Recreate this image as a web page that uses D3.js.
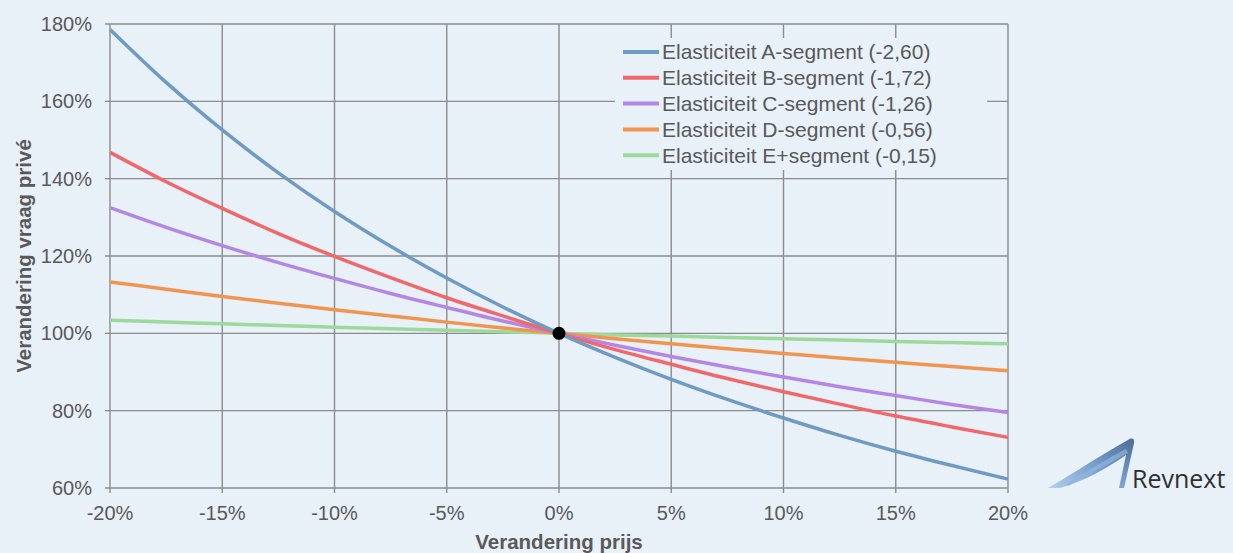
<!DOCTYPE html>
<html>
<head>
<meta charset="utf-8">
<script src="https://cdn.jsdelivr.net/npm/d3@7"></script>
<style>
  body { margin: 0; background: #e8f0f8; }
  svg { display: block; font-family: "Liberation Sans", Arial, sans-serif; }
</style>
</head>
<body>
<div id="chart"></div>
<script>
// prijsverandering (%) en vraag (%) per segment
const prices = [-20, -17.5, -15, -12.5, -10, -7.5, -5, -2.5, 0, 2.5, 5, 7.5, 10, 12.5, 15, 17.5, 20];
const segA = [178.6, 164.9, 152.6, 141.5, 131.5, 122.5, 114.3, 106.8, 100, 93.8, 88.1, 82.9, 78.1, 73.6, 69.5, 65.8, 62.3];
const segB = [146.8, 139.2, 132.3, 125.8, 119.9, 114.4, 109.2, 104.5, 100, 95.8, 92.0, 88.3, 84.9, 81.7, 78.6, 75.8, 73.1];
const segC = [132.5, 127.4, 122.7, 118.3, 114.2, 110.3, 106.7, 103.2, 100, 96.9, 94.0, 91.3, 88.7, 86.2, 83.9, 81.6, 79.5];
const segD = [113.3, 111.4, 109.5, 107.8, 106.1, 104.5, 102.9, 101.4, 100, 98.6, 97.3, 96.0, 94.8, 93.6, 92.5, 91.4, 90.3];
const segE = [103.4, 102.9, 102.5, 102.0, 101.6, 101.2, 100.8, 100.4, 100, 99.6, 99.3, 98.9, 98.6, 98.3, 97.9, 97.6, 97.3];
const seriesNames = [
  "Elasticiteit A-segment (-2,60)",
  "Elasticiteit B-segment (-1,72)",
  "Elasticiteit C-segment (-1,26)",
  "Elasticiteit D-segment (-0,56)",
  "Elasticiteit E+segment (-0,15)"
];
const seriesColors = ["#6f9bc2", "#f0686b", "#b487e6", "#f0944f", "#9dd99b"];
const xTicks = [-20, -15, -10, -5, 0, 5, 10, 15, 20];
const yTicks = [60, 80, 100, 120, 140, 160, 180];

const width = 1233;
const height = 553;
const margin = { top: 24, right: 225, bottom: 65, left: 110 };
const bg = "#e8f0f8";
const grid = "#8c8c8c";
const textColor = "#595959";

const svg = d3.select("#chart")
  .append("svg")
  .attr("width", width)
  .attr("height", height);

svg.append("rect").attr("width", width).attr("height", height).attr("fill", bg);

const x = d3.scaleLinear()
  .domain([-20, 20])
  .range([margin.left, width - margin.right]);

const y = d3.scaleLinear()
  .domain([60, 180])
  .range([height - margin.bottom, margin.top]);

// gridlines
svg.append("g")
  .attr("stroke", grid)
  .attr("stroke-width", 1.4)
  .call(g => g.selectAll(".v").data(xTicks).join("line")
    .attr("x1", d => x(d)).attr("x2", d => x(d))
    .attr("y1", y(180)).attr("y2", y(60) + 5))
  .call(g => g.selectAll(".h").data(yTicks).join("line")
    .attr("x1", x(-20) - 5).attr("x2", x(20))
    .attr("y1", d => y(d)).attr("y2", d => y(d)));

// axis labels
svg.append("g")
  .attr("font-size", "20px")
  .attr("fill", textColor)
  .attr("text-anchor", "end")
  .selectAll("text")
  .data(yTicks)
  .join("text")
    .attr("x", x(-20) - 18)
    .attr("y", d => y(d))
    .attr("dy", "0.35em")
    .text(d => d + "%");

svg.append("g")
  .attr("font-size", "20px")
  .attr("fill", textColor)
  .attr("text-anchor", "middle")
  .selectAll("text")
  .data(xTicks)
  .join("text")
    .attr("x", d => x(d))
    .attr("y", y(60) + 25)
    .attr("dy", "0.35em")
    .text(d => d + "%");

svg.append("text")
  .attr("text-anchor", "middle")
  .attr("font-weight", "bold")
  .attr("font-size", "20.5px")
  .attr("fill", textColor)
  .attr("transform", `translate(${x(0)},${height - 4})`)
  .text("Verandering prijs");

svg.append("text")
  .attr("text-anchor", "middle")
  .attr("font-weight", "bold")
  .attr("font-size", "20.5px")
  .attr("fill", textColor)
  .attr("transform", `translate(31,${(y(60) + y(180)) / 2}) rotate(-90)`)
  .text("Verandering vraag privé");

// legend backdrop hides the grid behind it
const legendX = 615, legendY = 38;
svg.append("rect")
  .attr("x", legendX).attr("y", legendY)
  .attr("width", 372).attr("height", 132)
  .attr("fill", bg);

const allSeries = [segA, segB, segC, segD, segE];

const line = d3.line()
  .x((d, i) => x(prices[i]))
  .y(d => y(d))
  .curve(d3.curveMonotoneX);

// draw E first so A ends on top
svg.append("g")
  .attr("fill", "none")
  .attr("stroke-width", 3.5)
  .selectAll("path")
  .data(allSeries.map((s, i) => ({ s, i })).reverse())
  .join("path")
    .attr("stroke", d => seriesColors[d.i])
    .attr("d", d => line(d.s));

svg.append("circle")
  .attr("cx", x(0)).attr("cy", y(100)).attr("r", 6.5)
  .attr("fill", "#000");

const legend = svg.append("g")
  .selectAll("g")
  .data(seriesNames)
  .join("g")
    .attr("transform", (d, i) => `translate(${legendX + 8},${legendY + 14 + i * 25.8})`);

legend.append("line")
  .attr("x1", 0).attr("x2", 36)
  .attr("stroke", (d, i) => seriesColors[i])
  .attr("stroke-width", 4);

legend.append("text")
  .attr("x", 39)
  .attr("dy", "0.35em")
  .attr("font-size", "21px")
  .attr("fill", textColor)
  .text(d => d);

// logo
const defs = svg.append("defs");
const grad = defs.append("linearGradient").attr("id", "logoGrad")
  .attr("x1", "0").attr("y1", "1").attr("x2", "1").attr("y2", "0");
grad.append("stop").attr("offset", "0").attr("stop-color", "#b3d0ee");
grad.append("stop").attr("offset", "0.55").attr("stop-color", "#7299c8");
grad.append("stop").attr("offset", "1").attr("stop-color", "#4f6b98");

const logo = svg.append("g").attr("transform", "translate(1046,437)");
logo.append("path")
  .attr("d", "M2,51 C28,36 58,16 82,3 C86,0 89,2 88,6 L78,51 L73,51 L80,18 C60,32 38,44 14,51 Z")
  .attr("fill", "url(#logoGrad)");
logo.append("path")
  .attr("d", "M20,47 C40,35 60,22 80,12 L82,16 C62,27 42,38 22,49 Z")
  .attr("fill", "#8fb4de")
  .attr("opacity", 0.7);
logo.append("text")
  .attr("x", 86).attr("y", 51)
  .attr("font-family", "'Open Sans', sans-serif")
  .attr("font-size", "25px")
  .attr("fill", "#2f2f2f")
  .text("Revnext");
</script>
</body>
</html>
